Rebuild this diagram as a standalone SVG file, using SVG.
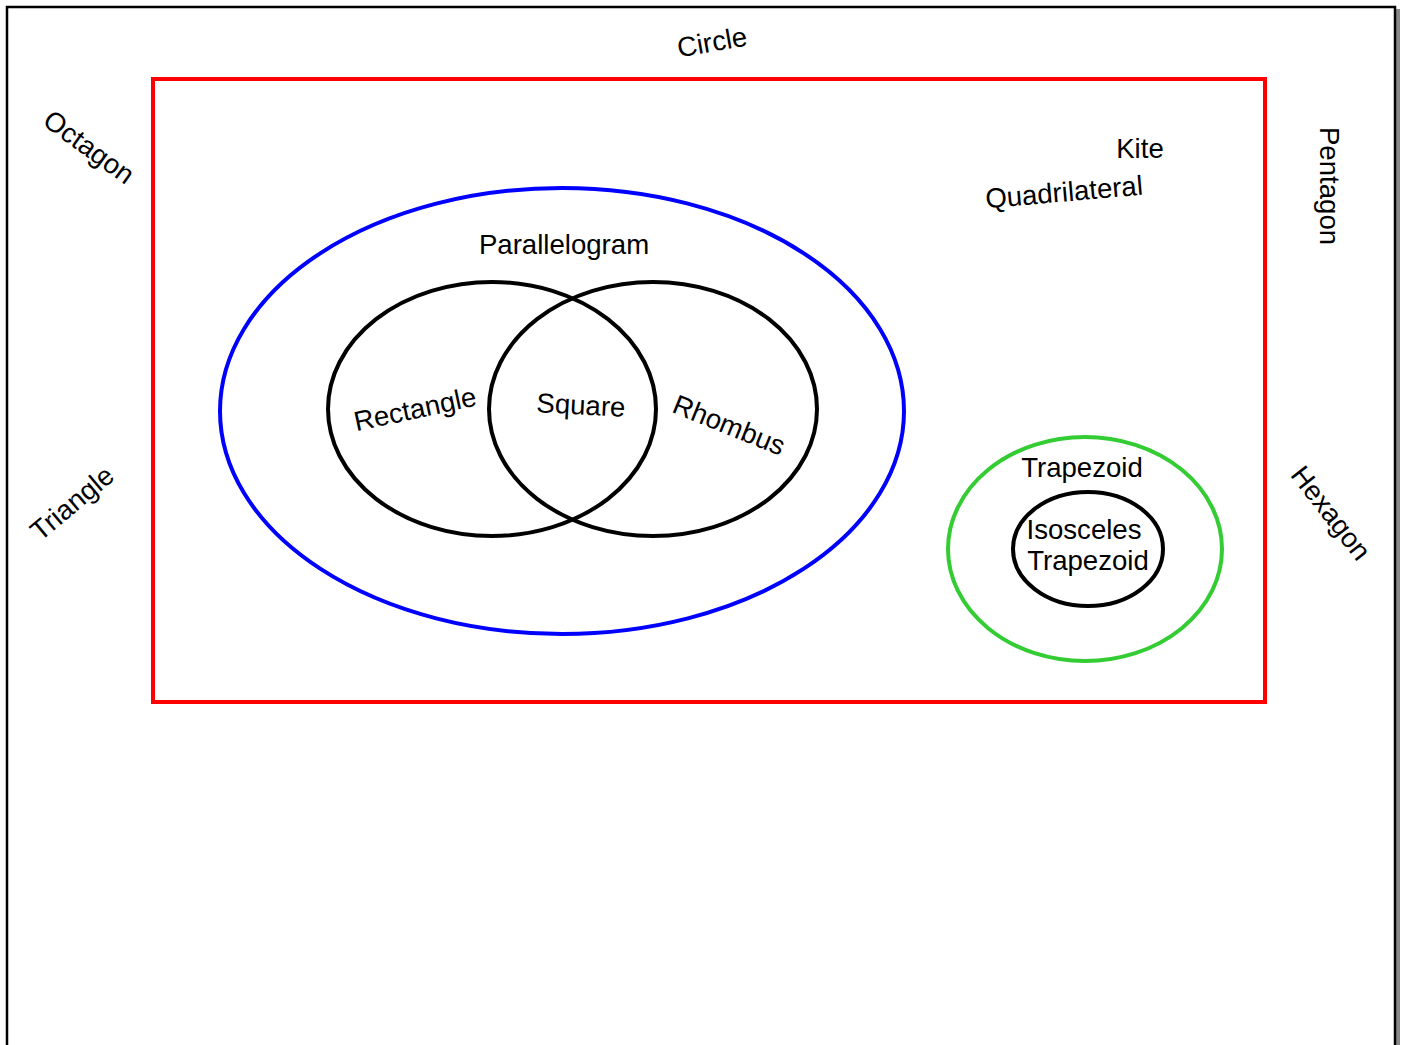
<svg xmlns="http://www.w3.org/2000/svg" width="1403" height="1045" viewBox="0 0 1403 1045">
<style>
text{font-family:"Liberation Sans",Arial,sans-serif;font-size:27.6px;fill:#000;text-anchor:middle;dominant-baseline:central}
.e{fill:none;stroke-width:4}
</style>
<rect width="1403" height="1045" fill="#fff"/>
<g id="page">
<rect x="1396" y="9" width="4" height="1040" fill="#888"/>
<path d="M7 1050 V7 H1395 V1050" fill="none" stroke="#000" stroke-width="2.5"/>
</g>
<g id="quadrilateral">
<rect x="153" y="79" width="1112" height="623" class="e" stroke="#f00"/>
<text x="1064" y="192" transform="rotate(-5 1064 192)">Quadrilateral</text>
</g>
<g id="kite"><text x="1140" y="148">Kite</text></g>
<g id="parallelogram">
<ellipse cx="562" cy="411" rx="342" ry="223" class="e" stroke="#00f"/>
<text x="564" y="244">Parallelogram</text>
</g>
<g id="rectangle">
<ellipse cx="492" cy="409" rx="164" ry="127" class="e" stroke="#000"/>
<text x="415" y="409" transform="rotate(-12 415 409)">Rectangle</text>
</g>
<g id="rhombus">
<ellipse cx="653" cy="409" rx="164" ry="127" class="e" stroke="#000"/>
<text x="729" y="425" transform="rotate(22 729 425)">Rhombus</text>
</g>
<g id="square"><text x="581" y="405" transform="rotate(3 581 405)">Square</text></g>
<g id="trapezoid">
<ellipse cx="1085" cy="549" rx="137" ry="112" class="e" stroke="#3c3"/>
<text x="1082" y="467">Trapezoid</text>
</g>
<g id="isosceles-trapezoid">
<ellipse cx="1088" cy="549" rx="75" ry="57" class="e" stroke="#000"/>
<text x="1084" y="529">Isosceles</text>
<text x="1088" y="560">Trapezoid</text>
</g>
<g id="circle"><text x="712" y="42" transform="rotate(-10 712 42)">Circle</text></g>
<g id="octagon"><text x="89" y="147" transform="rotate(36 89 147)">Octagon</text></g>
<g id="pentagon"><text x="1329" y="186" transform="rotate(90 1329 186)">Pentagon</text></g>
<g id="hexagon"><text x="1331" y="513" transform="rotate(52 1331 513)">Hexagon</text></g>
<g id="triangle"><text x="72" y="503" transform="rotate(-40 72 503)">Triangle</text></g>
<g id="connectors"></g>
</svg>
